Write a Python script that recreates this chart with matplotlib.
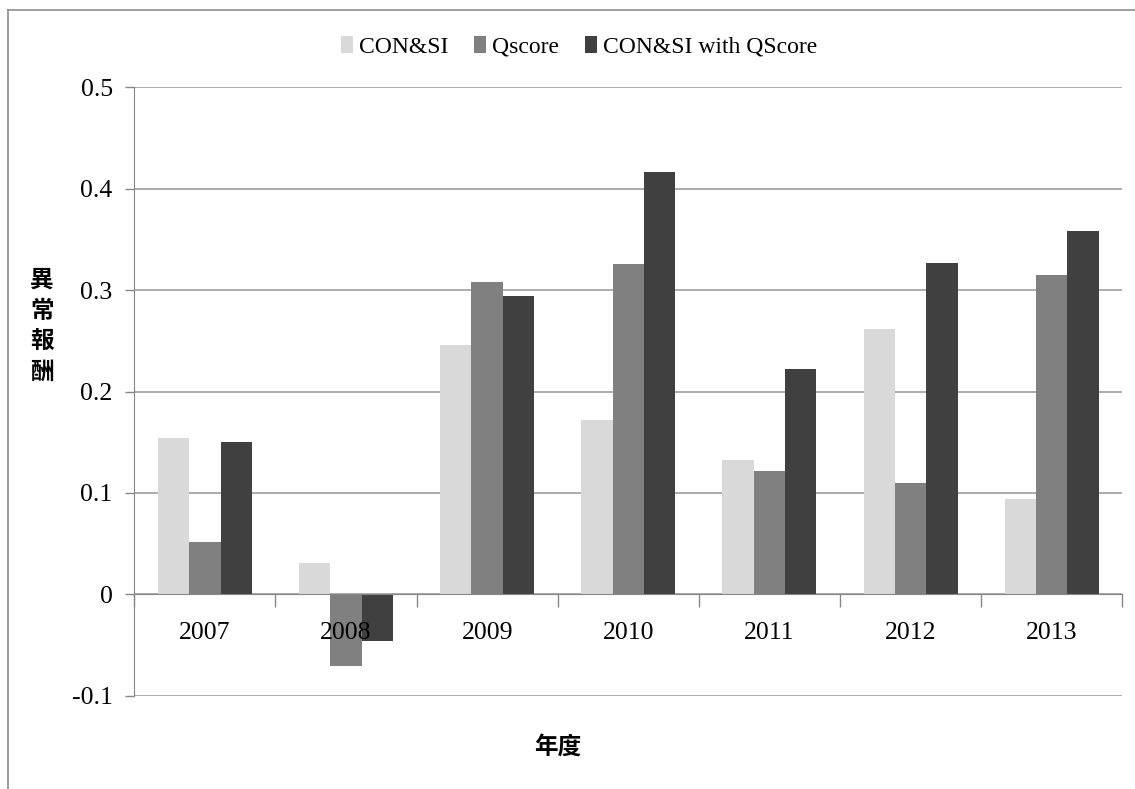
import numpy as np
import matplotlib
matplotlib.use("Agg")
from matplotlib import pyplot as plt
from matplotlib.patches import Patch
from matplotlib.lines import Line2D

# data
years = ["2007", "2008", "2009", "2010", "2011", "2012", "2013"]
con_si = [0.154, 0.031, 0.246, 0.172, 0.132, 0.262, 0.094]
qscore = [0.052, -0.071, 0.308, 0.326, 0.122, 0.110, 0.315]
con_si_q = [0.150, -0.046, 0.294, 0.417, 0.222, 0.327, 0.358]
series_names = ["CON&SI", "Qscore", "CON&SI with QScore"]
series_colors = ["#d9d9d9", "#808080", "#404040"]

plt.rcParams["font.family"] = ["Liberation Serif", "Noto Sans CJK TC", "DejaVu Sans"]
cjk = ["Noto Sans CJK TC", "DejaVu Sans"]

fig = plt.figure(figsize=(11.35, 7.89), dpi=100)
ax = fig.add_axes([0.1183, 0.1182, 0.8705, 0.7711])

x = np.arange(len(years))
w = 0.222
for i, (vals, c) in enumerate(zip([con_si, qscore, con_si_q], series_colors)):
    ax.bar(x + (i - 1) * w, vals, width=w, color=c, edgecolor="none", zorder=3)

ax.set_xlim(-0.5, len(years) - 0.5)
ax.set_ylim(-0.1, 0.5)
ax.set_yticks(np.arange(-0.1, 0.51, 0.1))
ax.set_yticklabels(["-0.1", "0", "0.1", "0.2", "0.3", "0.4", "0.5"])
ax.yaxis.grid(True, color="#a6a6a6", linewidth=1.3, zorder=0)

# category boundary ticks on the zero line, labels centred between them
ax.set_xticks(np.arange(-0.5, len(years), 1.0))
ax.set_xticklabels([])
ax.set_xticks(x, minor=True)
ax.set_xticklabels(years, minor=True)
ax.tick_params(axis="x", which="major", direction="out", length=9, color="#868686", width=1)
ax.tick_params(axis="x", which="minor", length=0, pad=20, labelsize=18.5)
ax.tick_params(axis="y", direction="out", length=6.5, color="#868686", width=1, pad=9, labelsize=18.5)
ax.xaxis.set_zorder(5)  # year labels sit on top of the 2008 bars

for s in ["top", "right"]:
    ax.spines[s].set_visible(False)
ax.spines["bottom"].set_position(("data", 0))
ax.spines["bottom"].set_color("#868686")
ax.spines["bottom"].set_zorder(4)
ax.spines["left"].set_color("#868686")

fig.text(41.7 / 1135, 1 - 326 / 789, "異\n常\n報\n酬", family=cjk, fontweight="bold",
         fontsize=17, ha="center", va="center", linespacing=1.35)
fig.text(558 / 1135, 1 - 747 / 789, "年度", family=cjk, fontweight="bold",
         fontsize=17, ha="center", va="center")

handles = [Patch(facecolor=c, edgecolor="none") for c in series_colors]
fig.legend(handles, series_names, loc="center", bbox_to_anchor=(579 / 1135, 1 - 47 / 789),
           ncol=3, frameon=False, fontsize=17, handlelength=0.5, handleheight=0.75,
           handletextpad=0.25, columnspacing=1.1)

# outer chart frame (left and top edges)
fig.add_artist(Line2D([8 / 1135, 8 / 1135], [0, 1 - 10 / 789], color="#8c8c8c", linewidth=1.2))
fig.add_artist(Line2D([8 / 1135, 1], [1 - 10 / 789, 1 - 10 / 789], color="#8c8c8c", linewidth=1.2))

fig.savefig("out.png", dpi=100)
